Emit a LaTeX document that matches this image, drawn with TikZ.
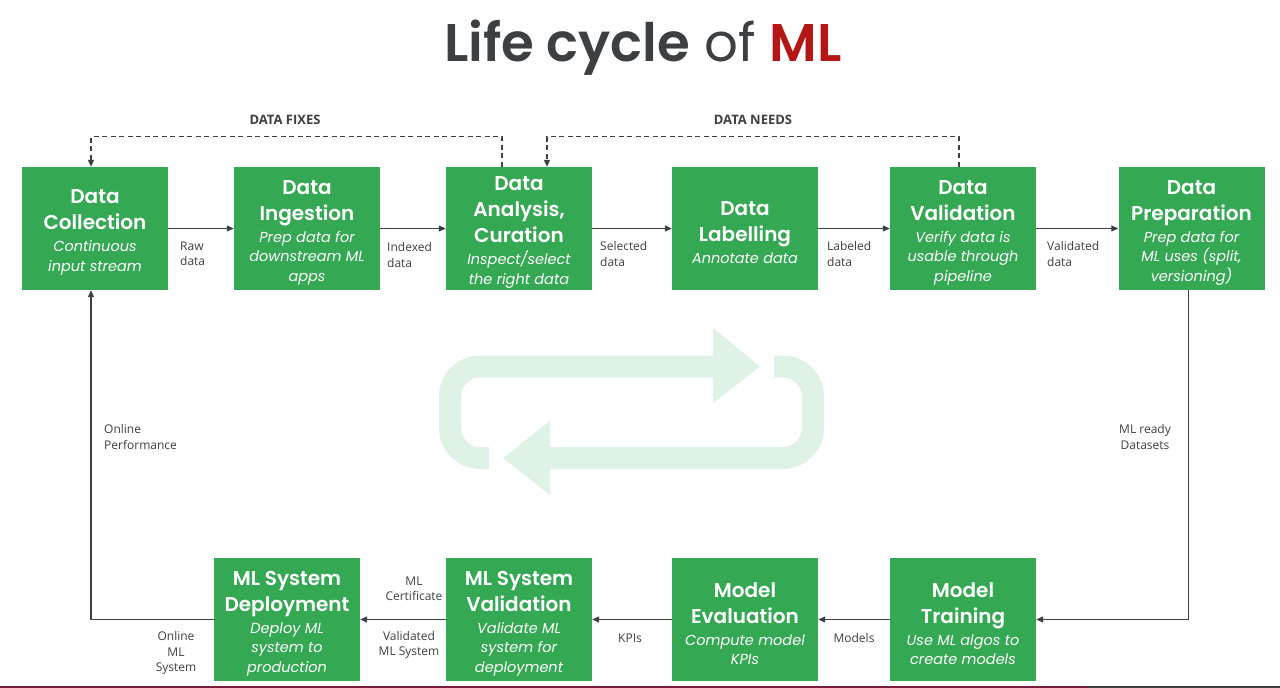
\documentclass[tikz,border=0pt]{standalone}
\usepackage{fontspec}
\setmainfont{Poppins}[BoldFont={Poppins SemiBold}, BoldItalicFont={Poppins SemiBold Italic}]
\newfontfamily\lblfont{Open Sans}
\usetikzlibrary{arrows.meta}
\definecolor{gbox}{RGB}{52,168,83}
\definecolor{ink}{RGB}{60,64,67}
\definecolor{mlred}{RGB}{180,22,22}
\definecolor{paleg}{RGB}{224,241,229}
\definecolor{barred}{RGB}{120,30,60}
% stage text: bold heading over an italic description, set slightly low in the box
\newcommand\boxtxt[2]{\raisebox{-4pt}[\height][\depth]{\parbox{142pt}{\centering
  {\fontsize{20}{26}\selectfont\bfseries #1\par}\vspace{2.5pt}%
  {\fontsize{14.5}{19.5}\selectfont\itshape #2\par}}}}
\tikzset{
  stage/.style={fill=gbox, text=white, minimum width=146pt, minimum height=123pt,
    inner sep=0pt},
  conn/.style={draw=ink, line width=1.2pt, -{Triangle[length=7pt,width=6pt]}},
  dconn/.style={conn, dashed, dash pattern=on 5pt off 3.5pt},
  lbl/.style={text=ink, font=\lblfont\fontsize{12}{15.5}\selectfont, inner sep=0pt},
  hdr/.style={text=ink, font=\lblfont\fontsize{13}{15}\selectfont\bfseries, inner sep=0pt},
  loopband/.style={draw=paleg, line width=22pt, rounded corners=30pt},
}
\begin{document}
\begin{tikzpicture}[x=1pt,y=-1pt]
\useasboundingbox (0,0) rectangle (1280,688);
\fill[white] (0,0) rectangle (1280,688);

% title
\node[text=ink, font=\fontsize{53}{60}\selectfont] (title) at (643,48)
  {{\bfseries Life cycle} of {\bfseries\color{mlred}ML}};

% background cycle symbol
\draw[loopband] (489,458) -- (450,458) -- (450,366.5) -- (714,366.5);
\fill[paleg] (713,328) -- (760,366.5) -- (713,403) -- cycle;
\draw[loopband] (774,366.5) -- (813,366.5) -- (813,458) -- (549,458);
\fill[paleg] (550,421) -- (503,458) -- (550,495) -- cycle;

% top row of stages
\node[stage] (dc) at (95,228.5) {\boxtxt{Data\\Collection}{Continuous\\input stream}};
\node[stage] (di) at (307,228.5) {\boxtxt{Data\\Ingestion}{Prep data for\\downstream ML\\apps}};
\node[stage] (da) at (519,228.5) {\boxtxt{Data\\Analysis,\\Curation}{Inspect/select\\the right data}};
\node[stage] (dl) at (745,228.5) {\boxtxt{Data\\Labelling}{Annotate data}};
\node[stage] (dv) at (963,228.5) {\boxtxt{Data\\Validation}{Verify data is\\usable through\\pipeline}};
\node[stage] (dp) at (1191.5,228.5) {\boxtxt{Data\\Preparation}{Prep data for\\ML uses (split,\\versioning)}};

% bottom row of stages
\node[stage] (md) at (287,619.5) {\boxtxt{ML System\\Deployment}{Deploy ML\\system to\\production}};
\node[stage] (mv) at (519,619.5) {\boxtxt{ML System\\Validation}{Validate ML\\system for\\deployment}};
\node[stage] (me) at (745,619.5) {\boxtxt{Model\\Evaluation}{Compute model\\KPIs}};
\node[stage] (mt) at (963,619.5) {\boxtxt{Model\\Training}{Use ML algos to\\create models}};

% forward flow along the top
\draw[conn] (dc.east) -- (di.west);
\draw[conn] (di.east) -- (da.west);
\draw[conn] (da.east) -- (dl.west);
\draw[conn] (dl.east) -- (dv.west);
\draw[conn] (dv.east) -- (dp.west);

% down the right side and back along the bottom
\draw[conn] ([xshift=-3pt]dp.south) |- (mt.east);
\draw[conn] (mt.west) -- (me.east);
\draw[conn] (me.west) -- (mv.east);
\draw[conn] (mv.west) -- (md.east);
\draw[conn] (md.west) -| ([xshift=-4pt]dc.south);

% feedback loops
\draw[dconn] ([xshift=-17pt]da.north) -- ++(0,-30) -| ([xshift=-4pt]dc.north);
\draw[dconn] ([xshift=-4pt]dv.north) -- ++(0,-30) -| ([xshift=28pt]da.north);
\node[hdr] (fixes) at (285,119.5) {DATA FIXES};
\node[hdr] (needs) at (753,119.5) {DATA NEEDS};

% edge labels
\node[lbl, align=left, anchor=west] (l1) at (180,254) {Raw\\data};
\node[lbl, align=left, anchor=west] (l2) at (387,255) {Indexed\\data};
\node[lbl, align=left, anchor=west] (l3) at (600,254) {Selected\\data};
\node[lbl, align=left, anchor=west] (l4) at (827,254) {Labeled\\data};
\node[lbl, align=left, anchor=west] (l5) at (1047,254) {Validated\\data};
\node[lbl, align=center] (l6) at (1145,437) {ML ready\\Datasets};
\node[lbl, align=left, anchor=west] (l7) at (104,437) {Online\\Performance};
\node[lbl, align=center] (l8) at (414,589) {ML\\Certificate};
\node[lbl, align=center] (l9) at (409,645) {Validated\\ML System};
\node[lbl] (l10) at (630,638) {KPIs};
\node[lbl] (l11) at (854,638) {Models};
\node[lbl, align=center] (l12) at (176,653) {Online\\ML\\System};

% thin bar along the lower edge
\fill[barred] (0,686) rectangle (1088,688);
\fill[ink] (1088,686) rectangle (1280,688);
\end{tikzpicture}
\end{document}
